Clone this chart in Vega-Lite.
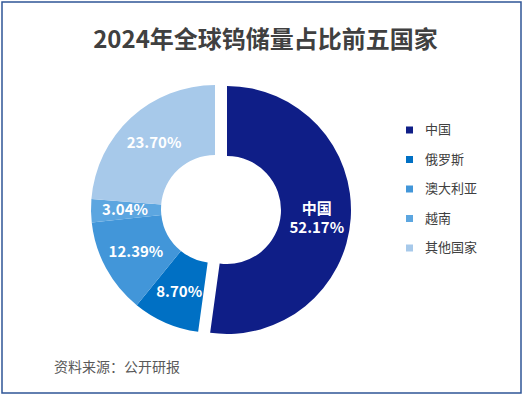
{
  "$schema": "https://vega.github.io/schema/vega-lite/v6.json",
  "padding": {"left": 1, "top": 1, "right": 2, "bottom": 1},
  "autosize": {"type": "pad"},
  "background": "white",
  "title": {
    "text": "2024年全球钨储量占比前五国家",
    "anchor": "middle",
    "orient": "top",
    "offset": -71,
    "baseline": "alphabetic",
    "fontSize": 24,
    "fontWeight": "bold",
    "font": "Noto Sans CJK SC",
    "color": "#404040",
    "dx": 4
  },
  "config": {
    "view": {"stroke": "#2F5597", "strokeWidth": 1.5},
    "style": {
      "view": {"stroke": "#2F5597", "strokeWidth": 1.5},
      "cell": {"stroke": "#2F5597", "strokeWidth": 1.5}
    },
    "font": "Noto Sans CJK SC"
  },
  "vconcat": [
    {
      "width": 519,
      "height": 391,
      "title": {
        "text": "资料来源：公开研报",
        "orient": "bottom",
        "anchor": "start",
        "offset": -21,
        "baseline": "alphabetic",
        "fontSize": 14,
        "fontWeight": "normal",
        "font": "Noto Sans CJK SC",
        "color": "#595959",
        "dx": 52
      },
      "data": {
        "values": [
          {"country": "中国", "value": 52.17, "order": 1, "label": "中国\n52.17%"},
          {"country": "俄罗斯", "value": 8.70, "order": 2, "label": "8.70%"},
          {"country": "澳大利亚", "value": 12.39, "order": 3, "label": "12.39%"},
          {"country": "越南", "value": 3.04, "order": 4, "label": "3.04%"},
          {"country": "其他国家", "value": 23.70, "order": 5, "label": "23.70%"}
        ]
      },
      "encoding": {
        "theta": {"field": "value", "type": "quantitative", "stack": true},
        "order": {"field": "order", "type": "quantitative"},
        "color": {
          "field": "country",
          "type": "nominal",
          "scale": {
            "domain": ["中国", "俄罗斯", "澳大利亚", "越南", "其他国家"],
            "range": ["#0F1E87", "#0070C4", "#4296D9", "#5CA6E0", "#A7C9EA"]
          },
          "legend": {
            "orient": "none",
            "legendX": 401,
            "legendY": 121.5,
            "title": null,
            "symbolType": "square",
            "symbolSize": 49,
            "symbolOpacity": 1,
            "symbolStrokeWidth": 0,
            "labelFontSize": 13,
            "labelColor": "#404040",
            "labelFont": "Noto Sans CJK SC",
            "rowPadding": 15.5,
            "labelOffset": 9,
            "padding": 0
          }
        }
      },
      "layer": [
        {
          "mark": {"type": "arc", "outerRadius": 124, "innerRadius": 54, "xOffset": -46.5, "yOffset": 11.5},
          "encoding": {
            "opacity": {"condition": {"test": "datum.country === '中国'", "value": 0}, "value": 1}
          }
        },
        {
          "mark": {"type": "arc", "outerRadius": 124, "innerRadius": 54, "xOffset": -34.5, "yOffset": 12.5},
          "encoding": {
            "opacity": {"condition": {"test": "datum.country === '中国'", "value": 1}, "value": 0}
          }
        },
        {
          "mark": {"type": "text", "radius": 90, "xOffset": -46.5, "yOffset": 11.5, "fontSize": 15, "fontWeight": "bold", "lineBreak": "\n", "lineHeight": 18},
          "encoding": {
            "text": {"field": "label", "type": "nominal"},
            "color": {"value": "white"},
            "opacity": {"condition": {"test": "datum.country === '中国'", "value": 0}, "value": 1}
          }
        },
        {
          "mark": {"type": "text", "radius": 90, "xOffset": -34.5, "yOffset": 5.5, "fontSize": 15, "fontWeight": "bold", "lineBreak": "\n", "lineHeight": 19},
          "encoding": {
            "text": {"field": "label", "type": "nominal"},
            "color": {"value": "white"},
            "opacity": {"condition": {"test": "datum.country === '中国'", "value": 1}, "value": 0}
          }
        }
      ]
    }
  ]
}
